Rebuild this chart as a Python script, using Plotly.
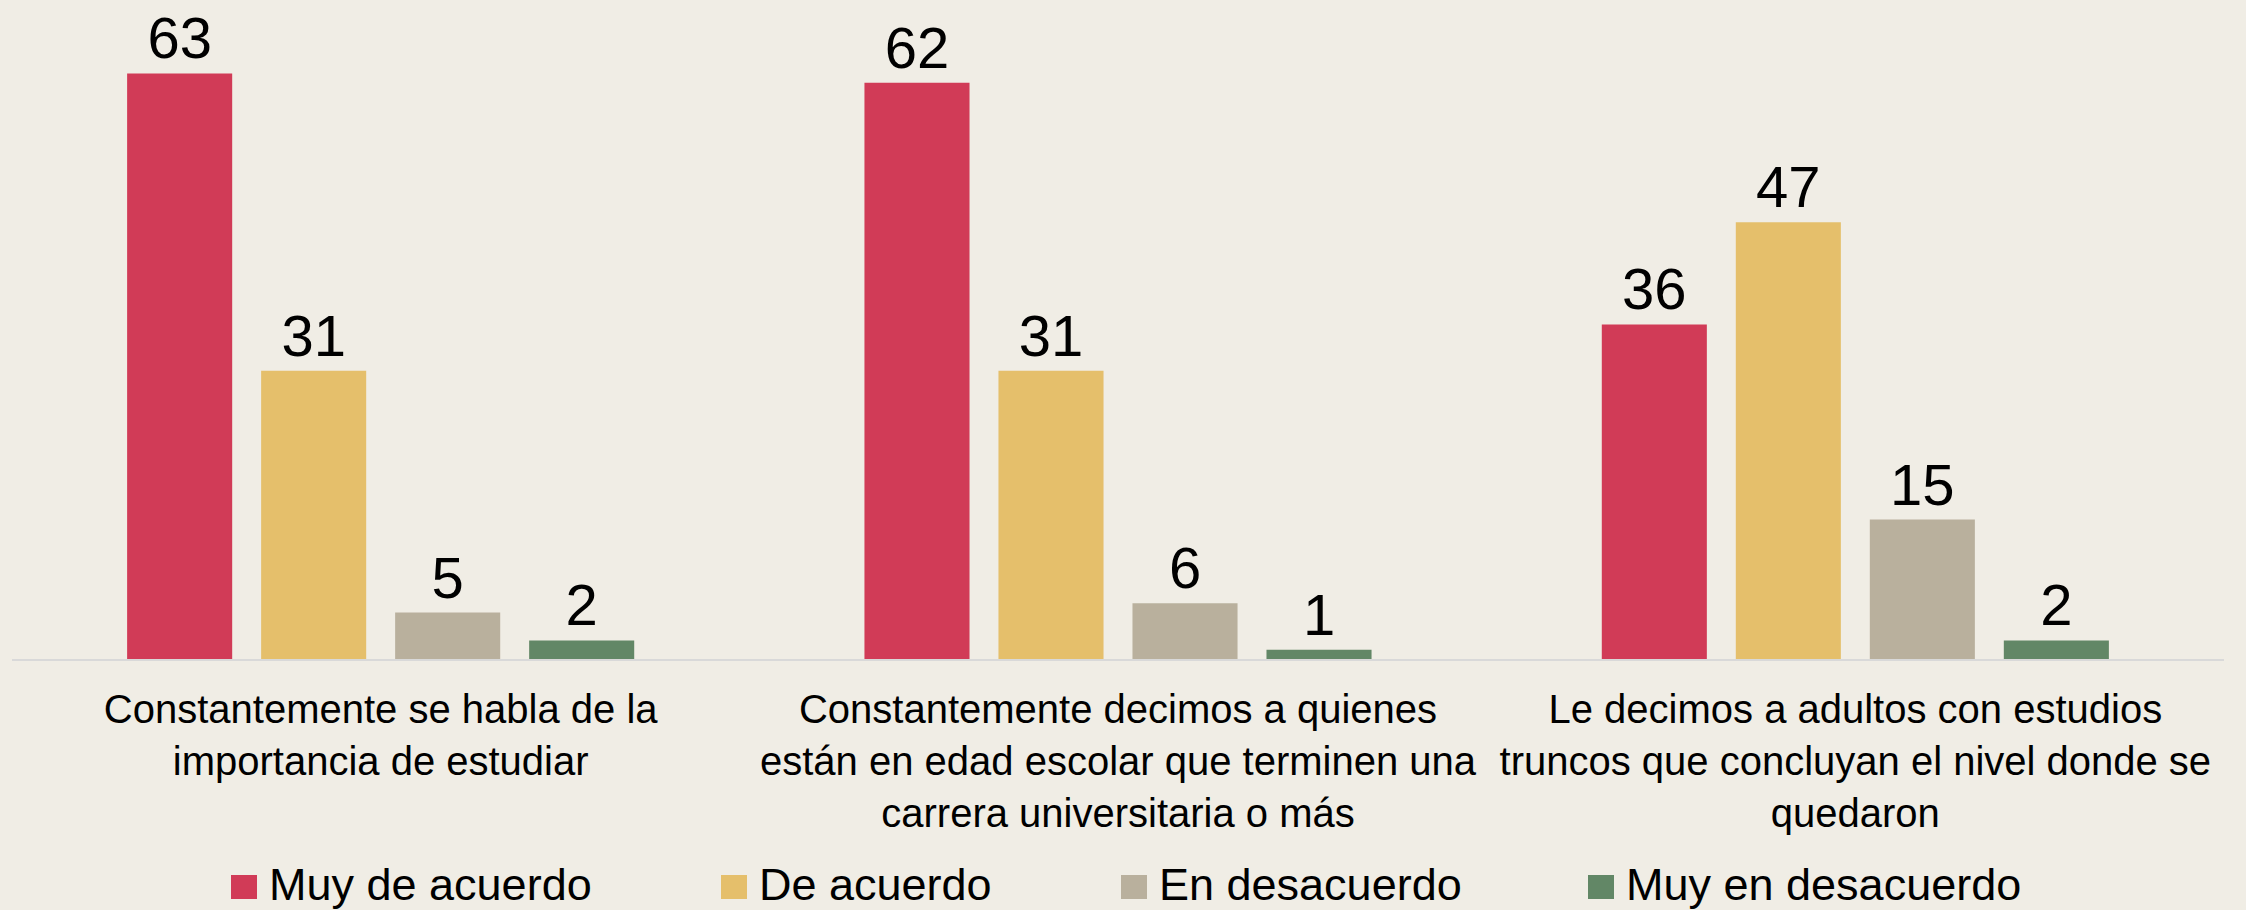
import plotly.graph_objects as go

# datos
categorias = [
    "Constantemente se habla de la<br>importancia de estudiar",
    "Constantemente decimos a quienes<br>están en edad escolar que terminen una<br>carrera universitaria o más",
    "Le decimos a adultos con estudios<br>truncos que concluyan el nivel donde se<br>quedaron",
]
series = ["Muy de acuerdo", "De acuerdo", "En desacuerdo", "Muy en desacuerdo"]
muy_de_acuerdo = [63, 62, 36]
de_acuerdo = [31, 31, 47]
en_desacuerdo = [5, 6, 15]
muy_en_desacuerdo = [2, 1, 2]
valores = [muy_de_acuerdo, de_acuerdo, en_desacuerdo, muy_en_desacuerdo]
colores = ["#D13B57", "#E5BF6B", "#B9B09D", "#628766"]

fuente = "Liberation Sans, Arial, sans-serif"

fig = go.Figure()
for nombre, vals, color in zip(series, valores, colores):
    fig.add_trace(go.Bar(
        x=categorias,
        y=vals,
        name=nombre,
        marker=dict(color=color, line=dict(width=0)),
        text=vals,
        textposition="outside",
        textfont=dict(size=58, color="black", family=fuente),
        cliponaxis=False,
        showlegend=False,
    ))

# leyenda hecha a mano (cuadros mas grandes que los de plotly)
left, right = 12, 22
ancho = 2246 - left - right
alto = 659
pos_cuadro = [231, 721, 1121, 1588]
for nombre, color, px in zip(series, colores, pos_cuadro):
    x0 = (px - left) / ancho
    x1 = (px + 26 - left) / ancho
    fig.add_shape(type="rect", xref="paper", yref="paper",
                  x0=x0, x1=x1, y0=(alto - 899) / alto, y1=(alto - 875) / alto,
                  fillcolor=color, line=dict(width=0))
    fig.add_annotation(text=nombre, xref="paper", yref="paper",
                       x=(px + 36 - left) / ancho, y=(alto - 884) / alto,
                       xanchor="left", yanchor="middle", showarrow=False,
                       font=dict(size=45, color="black", family=fuente))

fig.update_layout(
    width=2246,
    height=910,
    barmode="group",
    bargap=0.273,
    bargroupgap=0.216,
    paper_bgcolor="#F0EDE5",
    plot_bgcolor="#F0EDE5",
    margin=dict(l=left, r=right, t=0, b=910 - alto),
    font=dict(family=fuente, color="black"),
    xaxis=dict(
        showline=True, linecolor="#D9D9D9", linewidth=2,
        ticks="outside", ticklen=14, tickcolor="rgba(0,0,0,0)",
        tickfont=dict(size=40, color="black", family=fuente),
        showgrid=False,
    ),
    yaxis=dict(
        range=[0, 70.9], visible=False, showgrid=False, zeroline=False,
    ),
)

fig.write_html("out.html", config={"displayModeBar": False},
               post_script="document.body.style.margin='0';")
